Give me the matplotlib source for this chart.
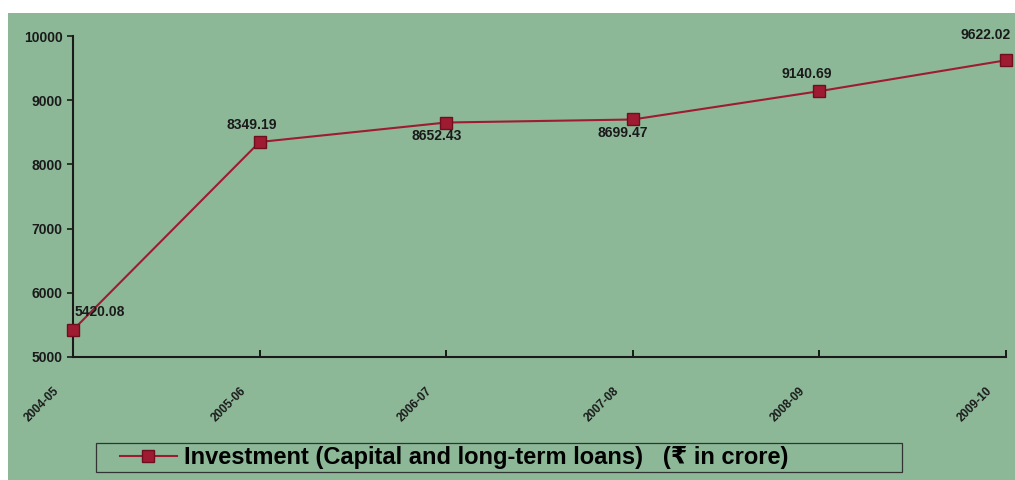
import matplotlib.pyplot as plt
from matplotlib.transforms import offset_copy
from matplotlib.patches import Rectangle

years = ['2004-05', '2005-06', '2006-07', '2007-08', '2008-09', '2009-10']
investment = [5420.08, 8349.19, 8652.43, 8699.47, 9140.69, 9622.02]
# label offsets in points (dx, dy) relative to each marker
label_offsets = [(1, 8), (-6, 7), (-7, -5), (-7, -5), (-9, 7), (-15, 13)]

bg = '#8cb897'
red = '#9e1b32'
dark = '#1a1a1a'

plt.rcParams['font.family'] = ['Liberation Sans', 'DejaVu Sans']

fig = plt.figure(figsize=(10.15, 4.8), dpi=100)
fig.patch.set_facecolor('white')
fig.add_artist(Rectangle((8 / 1015, 0), 1, 467 / 480, transform=fig.transFigure,
                         facecolor=bg, edgecolor='none', zorder=0))

ax = fig.add_axes([73 / 1015, 1 - 357 / 480, (1006 - 73) / 1015, (357 - 36) / 480])
ax.set_facecolor('none')

x = list(range(len(years)))
ax.plot(x, investment, color=red, lw=1.5, marker='s', markersize=9,
        markerfacecolor=red, markeredgecolor='#6e0f20', clip_on=False, zorder=3,
        label='Investment (Capital and long-term loans)   (\u20b9 in crore)')

for i, v in enumerate(investment):
    dx, dy = label_offsets[i]
    ha = 'left' if i == 0 else 'center'
    va = 'bottom' if dy > 0 else 'top'
    ax.annotate(f'{v:.2f}', (i, v), xytext=(dx, dy), textcoords='offset points',
                ha=ha, va=va, fontsize=10, fontweight='bold', color=dark)

ax.set_xlim(0, len(years) - 1)
ax.set_ylim(5000, 10000)
ax.set_yticks(range(5000, 10001, 1000))
ax.set_xticks(x)
ax.set_xticklabels([])

# rotated category labels, sitting down-left of each tick
lbl_trans = offset_copy(ax.get_xaxis_transform(), fig=fig, x=-20, y=-28, units='dots')
for i, yr in enumerate(years):
    ax.text(i, 0, yr, transform=lbl_trans, rotation=45, rotation_mode='anchor',
            ha='right', va='top', fontsize=8.5, fontweight='bold', color=dark,
            clip_on=False)

ax.tick_params(axis='y', labelsize=10, length=4, width=1.2, colors=dark)
ax.tick_params(axis='x', direction='in', length=5, width=1.2)
for lbl in ax.get_yticklabels():
    lbl.set_fontweight('bold')

for s in ['top', 'right']:
    ax.spines[s].set_visible(False)
for s in ['left', 'bottom']:
    ax.spines[s].set_linewidth(1.5)
    ax.spines[s].set_color(dark)

# legend box drawn separately, legend itself frameless inside it
fig.add_artist(Rectangle((96 / 1015, 8 / 480), (902 - 96) / 1015, 29 / 480,
                         transform=fig.transFigure, facecolor='none',
                         edgecolor='#333333', lw=0.9, zorder=5))
ax.legend(loc='center left', bbox_to_anchor=(120 / 1015, 22.5 / 480),
          bbox_transform=fig.transFigure, frameon=False, handlelength=2.4,
          handletextpad=0.3, borderpad=0, borderaxespad=0,
          prop={'size': 17, 'weight': 'bold'})

fig.savefig('out.png', dpi=100)
